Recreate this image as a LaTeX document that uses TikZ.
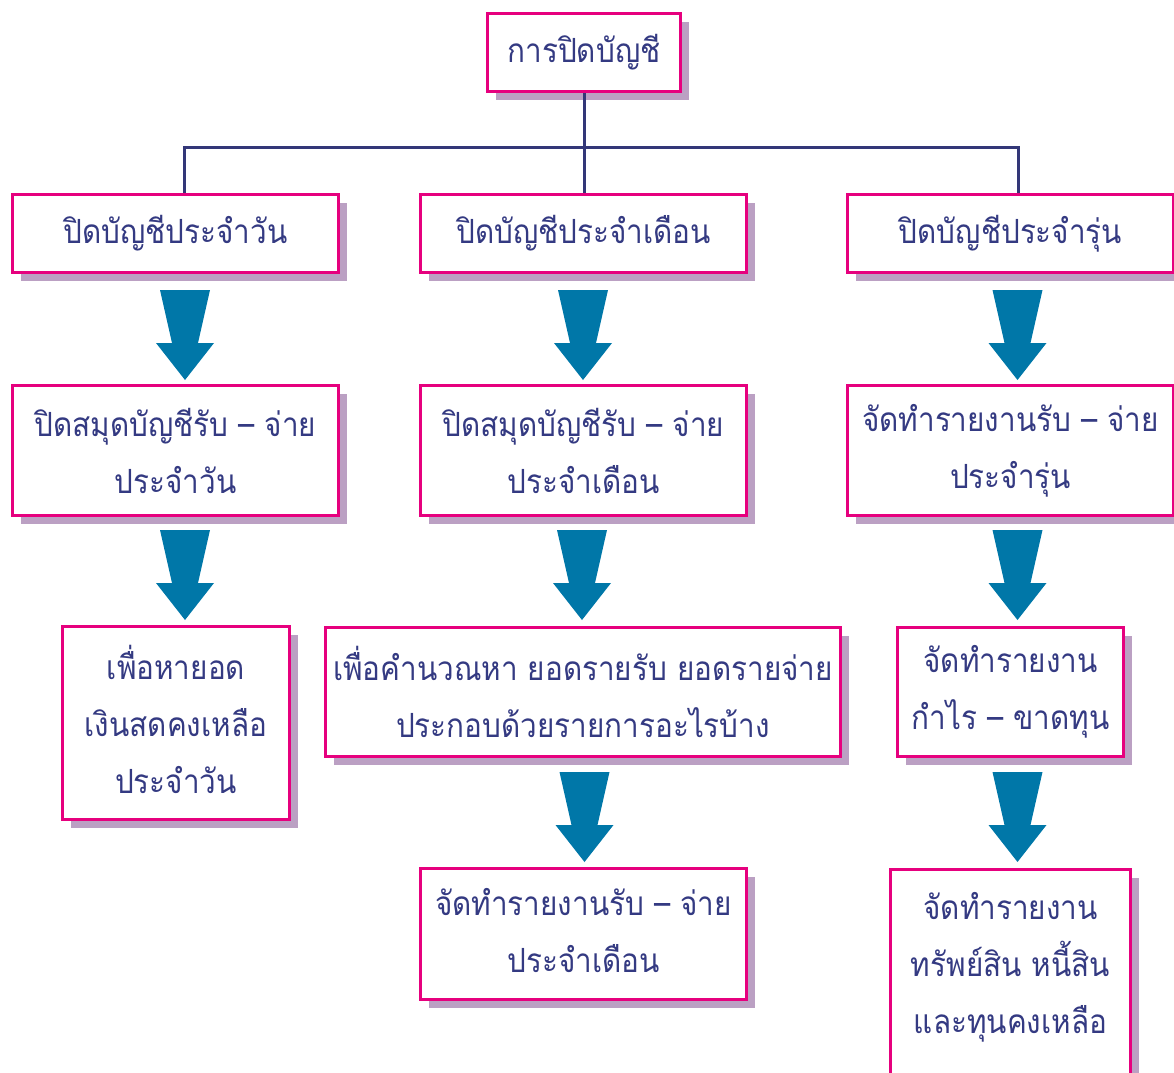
\documentclass[tikz,border=0pt]{standalone}
\usepackage{fontspec}
\newfontfamily\thaifont[Script=Thai, FakeStretch=0.89]{Loma}
\usepackage{xcolor}
\usepackage{tikz}
\usetikzlibrary{positioning, calc, shadows}
\definecolor{boxline}{RGB}{230,0,126}
\definecolor{boxshade}{RGB}{187,160,195}
\definecolor{boxtext}{RGB}{52,58,130}
\definecolor{trunkline}{RGB}{51,55,120}
\definecolor{flowblue}{RGB}{0,119,168}
\tikzset{
    acctbox/.style={
        rectangle,
        draw=boxline,
        line width=2.25pt,
        fill=white,
        text=boxtext,
        align=center,
        inner sep=0pt,
        font=\thaifont\fontsize{25}{42.75}\selectfont,
        drop shadow={shadow xshift=6pt, shadow yshift=-6pt, fill=boxshade, opacity=1}
    },
    trunk/.style={
        draw=trunkline,
        line width=2.25pt
    },
    flowarrow/.pic={
        \fill[flowblue] (-25,0) -- (25,0) -- (13,53) -- (29,53) -- (0,90)
            -- (-29,53) -- (-13,53) -- cycle;
    }
}
\begin{document}
\begin{tikzpicture}[x=0.75pt, y=-0.75pt]
\path[use as bounding box] (0,0) rectangle (1174,1072);
\clip (0,0) rectangle (1174,1072);

% Root
\node[acctbox, minimum width=144.75pt, minimum height=58.5pt] (root) at (584,52.5) {การปิดบัญชี};

% Row 1
\node[acctbox, minimum width=244.5pt, minimum height=58.5pt] (day) at (175.5,233.5) {ปิดบัญชีประจำวัน};
\node[acctbox, minimum width=244.5pt, minimum height=58.5pt] (month) at (583.5,233.5) {ปิดบัญชีประจำเดือน};
\node[acctbox, minimum width=244.5pt, minimum height=58.5pt] (batch) at (1010.5,233.5) {ปิดบัญชีประจำรุ่น};

% Row 2
\node[acctbox, minimum width=244.5pt, minimum height=97.5pt] (daybook) at (175.5,450.5) {ปิดสมุดบัญชีรับ – จ่าย\\ประจำวัน};
\node[acctbox, minimum width=244.5pt, minimum height=97.5pt] (monthbook) at (583.5,450.5) {ปิดสมุดบัญชีรับ – จ่าย\\ประจำเดือน};
\node[acctbox, minimum width=244.5pt, minimum height=97.5pt] (batchrep) at (1010.5,450.5) {จัดทำรายงานรับ – จ่าย\\ประจำรุ่น};

% Row 3
\node[acctbox, minimum width=170.25pt, minimum height=144.75pt, text depth=6pt] (daycash) at (176,723) {เพื่อหายอด\\เงินสดคงเหลือ\\ประจำวัน};
\node[acctbox, minimum width=386.25pt, minimum height=96.75pt] (monthcalc) at (583,692) {เพื่อคำนวณหา ยอดรายรับ ยอดรายจ่าย\\ประกอบด้วยรายการอะไรบ้าง};
\node[acctbox, minimum width=169.5pt, minimum height=96.75pt] (batchpl) at (1010.5,692) {จัดทำรายงาน\\กำไร – ขาดทุน};

% Row 4
\node[acctbox, minimum width=244.5pt, minimum height=98.25pt, text depth=6pt] (monthrep) at (583.5,934) {จัดทำรายงานรับ – จ่าย\\ประจำเดือน};
\node[acctbox, minimum width=180pt, minimum height=195.75pt] (batchbal) at (1010.5,1000) {จัดทำรายงาน\\ทรัพย์สิน หนี้สิน\\และทุนคงเหลือ\\\strut};

% Tree lines
\coordinate (jl) at (184,147);
\coordinate (jr) at (1018,147);
\draw[trunk] (root.south) -- (root.south |- month.north);
\draw[trunk] (jl |- day.north) -- (jl) -- (jr) -- (jr |- batch.north);

% Flow arrows
\pic at (185,290) {flowarrow};
\pic at (583,290) {flowarrow};
\pic at (1017.5,290) {flowarrow};
\pic at (185,530) {flowarrow};
\pic at (582,530) {flowarrow};
\pic at (1017.5,530) {flowarrow};
\pic at (584.5,772) {flowarrow};
\pic at (1017.5,772) {flowarrow};

\end{tikzpicture}
\end{document}
